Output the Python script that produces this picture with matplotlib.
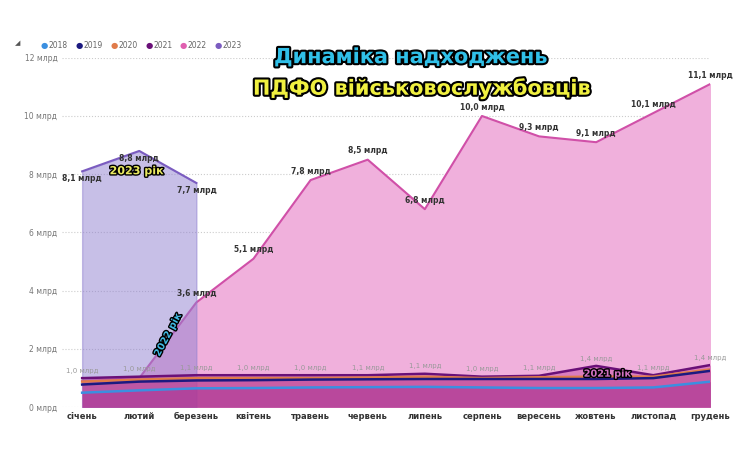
import matplotlib
matplotlib.use("Agg")
import matplotlib.pyplot as plt
import matplotlib.patheffects as pe

months = ["січень","лютий","березень","квітень","травень","червень","липень","серпень","вересень","жовтень","листопад","грудень"]
v2018 = [0.50,0.58,0.65,0.66,0.68,0.69,0.70,0.68,0.66,0.66,0.68,0.88]
v2019 = [0.78,0.88,0.92,0.93,0.95,0.96,0.97,0.97,0.97,0.97,1.00,1.25]
v2020 = [0.88,0.95,1.00,1.00,1.00,1.02,1.05,1.00,1.03,1.05,1.05,1.30]
v2021 = [1.00,1.05,1.10,1.10,1.10,1.10,1.15,1.05,1.08,1.42,1.10,1.45]
v2022 = [0.90,1.00,3.60,5.10,7.80,8.50,6.80,10.00,9.30,9.10,10.10,11.10]
v2023 = [8.10,8.80,7.70]
lab2021 = ["1,0 млрд","1,0 млрд","1,1 млрд","1,0 млрд","1,0 млрд","1,1 млрд","1,1 млрд","1,0 млрд","1,1 млрд","1,4 млрд","1,1 млрд","1,4 млрд"]
lab2022 = ["0,9 млрд","1,0 млрд","3,6 млрд","5,1 млрд","7,8 млрд","8,5 млрд","6,8 млрд","10,0 млрд","9,3 млрд","9,1 млрд","10,1 млрд","11,1 млрд"]
lab2023 = ["8,1 млрд","8,8 млрд","7,7 млрд"]

colors = {"2018":"#3b8fe0","2019":"#1c1a80","2020":"#e07b4a","2021":"#6a1078","2022":"#e060b0","2023":"#7b5cc0"}
fills = {"2018":"#a02890","2019":"#b03898","2020":"#d05080","2021":"#c040a0"}

fig = plt.figure(figsize=(7.4,4.51), dpi=100)
ax = fig.add_axes([0.084,0.097,0.876,0.775])
x = list(range(12))
ax.fill_between(x, 0, v2022, color="#f0b0dc", zorder=1)
ax.plot(x, v2022, color="#d050a8", lw=1.5, zorder=2)
ax.fill_between(x[:3], 0, v2023, color="#9080d0", alpha=0.5, zorder=3)
ax.plot(x[:3], v2023, color="#7b5cc0", lw=1.5, zorder=3)
for key, vals, a in [("2021",v2021,0.45),("2020",v2020,0.3),("2019",v2019,0.3),("2018",v2018,0.4)]:
    ax.fill_between(x, 0, vals, color=fills[key], alpha=a, zorder=4, lw=0)
    ax.plot(x, vals, color=colors[key], lw=1.8, zorder=5)

for i, t in enumerate(lab2022):
    if i < 2:
        continue
    ax.text(i, v2022[i]+0.15, t, ha="center", va="bottom", fontsize=5.5, fontweight="bold", color="#333", zorder=6)
for i, t in enumerate(lab2023):
    ax.text(i, v2023[i]-0.1, t, ha="center", va="top", fontsize=5.5, fontweight="bold", color="#333", zorder=6)
for i, t in enumerate(lab2021):
    ax.text(i, v2021[i]+0.15, t, ha="center", va="bottom", fontsize=5, color="#999", zorder=6)

oe = [pe.withStroke(linewidth=2, foreground="black")]
ax.text(0.95, 8.0, "2023 рік", fontsize=8, fontweight="bold", color="#e8e860", ha="center", path_effects=oe, zorder=7)
ax.text(1.5, 2.5, "2022 рік", fontsize=7, fontweight="bold", color="#40b8e0", rotation=62, ha="center", va="center", path_effects=oe, zorder=7)
ax.text(9.2, 1.05, "2021 рік", fontsize=7, fontweight="bold", color="#d070c0", ha="center", path_effects=oe, zorder=7)

ax.set_xlim(-0.35, 11.0)
ax.set_ylim(0, 12)
ax.set_yticks(range(0,13,2))
ax.set_yticklabels([f"{v} млрд" for v in range(0,13,2)], fontsize=5.5, color="#777")
ax.set_xticks(x)
ax.set_xticklabels(months, fontsize=6, fontweight="bold", color="#333")
ax.tick_params(length=0)
for s in ax.spines.values():
    s.set_visible(False)
ax.grid(axis="y", color="#ccc", ls=":", lw=0.8)
ax.set_axisbelow(True)

fig.text(0.02, 0.9, "\u25E2", fontsize=5, color="#555")
xs = 0.055
for k in ["2018","2019","2020","2021","2022","2023"]:
    fig.text(xs, 0.9, "●", fontsize=6, color=colors[k], va="center")
    fig.text(xs+0.011, 0.9, k, fontsize=5.5, color="#666", va="center")
    xs += 0.047

fig.text(0.555, 0.86, "Динаміка надходжень", fontsize=15, fontweight="bold", color="#30c0e8", ha="center", path_effects=[pe.withStroke(linewidth=3, foreground="black")])
fig.text(0.57, 0.79, "ПДФО військовослужбовців", fontsize=15, fontweight="bold", color="#f0f040", ha="center", path_effects=[pe.withStroke(linewidth=3, foreground="black")])
fig.savefig("out.png", dpi=100)
